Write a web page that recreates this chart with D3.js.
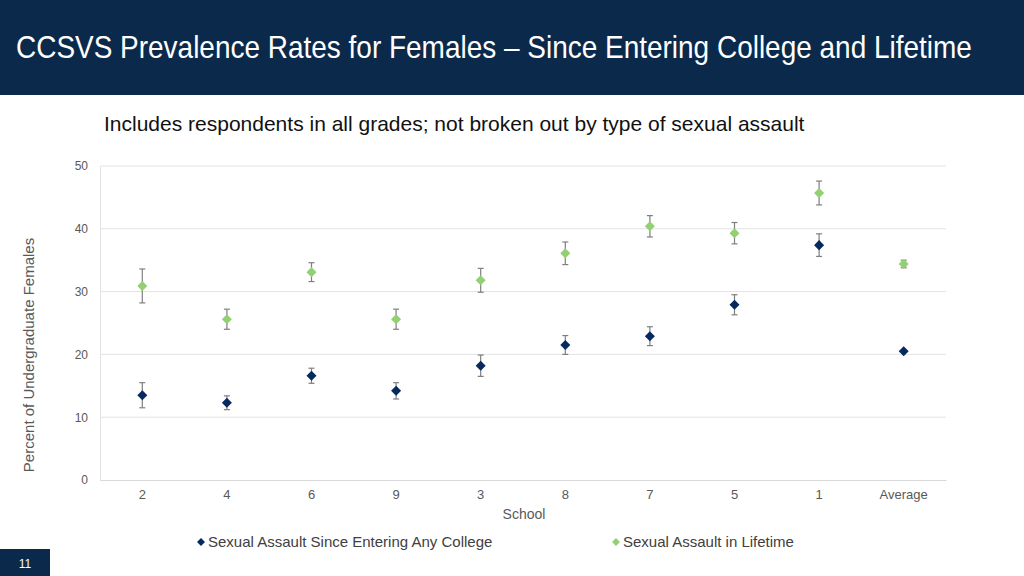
<!DOCTYPE html>
<html>
<head>
<meta charset="utf-8">
<script src="https://cdn.jsdelivr.net/npm/d3@7"></script>
<style>
  body { margin: 0; background: #fff; }
  svg { display: block; font-family: "Liberation Sans", Arial, sans-serif; }
</style>
</head>
<body>
<div id="chart"></div>
<script>
// Chart data
var schools = ["2", "4", "6", "9", "3", "8", "7", "5", "1", "Average"];
var sinceCollege = [13.5, 12.3, 16.6, 14.2, 18.2, 21.5, 22.9, 27.9, 37.4, 20.5];
var sinceCollegeErr = [2.0, 1.1, 1.2, 1.3, 1.7, 1.5, 1.5, 1.6, 1.8, 0];
var lifetime = [30.9, 25.6, 33.1, 25.6, 31.8, 36.1, 40.4, 39.3, 45.7, 34.4];
var lifetimeErr = [2.7, 1.6, 1.5, 1.6, 1.9, 1.8, 1.7, 1.7, 1.9, 0.6];
var yTicks = [0, 10, 20, 30, 40, 50];
var seriesNames = ["Sexual Assault Since Entering Any College", "Sexual Assault in Lifetime"];

var W = 1024, H = 576;
var margin = {top: 166, right: 78, bottom: 96, left: 100};
var width = W - margin.left - margin.right,
    height = H - margin.top - margin.bottom;

var navy = "#062a5e", green = "#93cf73", header = "#0b2a4b";

var svg = d3.select("#chart").append("svg")
            .attr("width", W)
            .attr("height", H);

// Header band
svg.append("rect").attr("x", 0).attr("y", 0).attr("width", W).attr("height", 95).attr("fill", header);

// no narrow font here, so squeeze the title horizontally to the reference width
var title = svg.append("text")
   .attr("fill", "#fff")
   .style("font-size", "32px")
   .text("CCSVS Prevalence Rates for Females \u2013 Since Entering College and Lifetime");
var titleScale = 956 / title.node().getComputedTextLength();
title.attr("transform", "translate(16,58) scale(" + titleScale + ",1)");

svg.append("text")
   .attr("x", 104).attr("y", 131)
   .attr("fill", "#111")
   .style("font-size", "21px")
   .text("Includes respondents in all grades; not broken out by type of sexual assault");

// Page number box
svg.append("rect").attr("x", 0).attr("y", 549).attr("width", 50).attr("height", 27).attr("fill", header);
svg.append("text").attr("x", 25).attr("y", 568).attr("text-anchor", "middle")
   .attr("fill", "#fff").style("font-size", "12px").text("11");

var g = svg.append("g").attr("transform", "translate(" + margin.left + "," + margin.top + ")");

var xScale = d3.scaleBand().domain(schools).range([0, width]);
var yScale = d3.scaleLinear().domain([0, 50]).range([height, 0]);

// Gridlines
g.selectAll("line.grid")
 .data(yTicks.filter(function(d) { return d > 0; }))
 .enter().append("line")
 .attr("class", "grid")
 .attr("x1", 0).attr("x2", width)
 .attr("y1", function(d) { return yScale(d); })
 .attr("y2", function(d) { return yScale(d); })
 .style("stroke", "#e3e3e3").style("stroke-width", 1);

// Y axis
var yAxis = d3.axisLeft(yScale).tickValues(yTicks).tickSize(0).tickPadding(12);
var yAxisGroup = g.append("g").call(yAxis);
yAxisGroup.select(".domain").style("stroke", "#e3e3e3");
yAxisGroup.selectAll("text").style("font-size", "12px").style("fill", "#595959")
          .style("font-family", "'Liberation Sans', Arial, sans-serif");

// X axis
var xAxis = d3.axisBottom(xScale).tickSize(0).tickPadding(10);
var xAxisGroup = g.append("g").attr("transform", "translate(0," + height + ")").call(xAxis);
xAxisGroup.select(".domain").style("stroke", "#d9d9d9");
xAxisGroup.selectAll("text").style("font-size", "13px").style("fill", "#595959")
          .style("font-family", "'Liberation Sans', Arial, sans-serif");

// Axis titles
g.append("text")
 .attr("x", width / 2 + 1).attr("y", height + 39)
 .attr("text-anchor", "middle")
 .style("font-size", "14px").style("fill", "#595959")
 .text("School");

g.append("text")
 .attr("transform", "translate(" + (-66) + "," + (height / 2 + 32) + ") rotate(-90)")
 .attr("text-anchor", "middle")
 .style("font-size", "15px").style("fill", "#595959")
 .text("Percent of Undergraduate Females");

var diamond = d3.symbol().type(d3.symbolDiamond2).size(64);

function drawSeries(values, errs, color) {
  var data = values.map(function(v, i) { return {school: schools[i], v: v, e: errs[i]}; });
  var cx = function(d) { return xScale(d.school) + xScale.bandwidth() / 2; };

  var bars = g.append("g").selectAll("g")
              .data(data.filter(function(d) { return d.e > 0; }))
              .enter().append("g")
              .style("stroke", "#7f7f7f").style("stroke-width", 1.2);
  bars.append("line")
      .attr("x1", cx).attr("x2", cx)
      .attr("y1", function(d) { return yScale(d.v + d.e); })
      .attr("y2", function(d) { return yScale(d.v - d.e); });
  bars.append("line")
      .attr("x1", function(d) { return cx(d) - 3; }).attr("x2", function(d) { return cx(d) + 3; })
      .attr("y1", function(d) { return yScale(d.v + d.e); })
      .attr("y2", function(d) { return yScale(d.v + d.e); });
  bars.append("line")
      .attr("x1", function(d) { return cx(d) - 3; }).attr("x2", function(d) { return cx(d) + 3; })
      .attr("y1", function(d) { return yScale(d.v - d.e); })
      .attr("y2", function(d) { return yScale(d.v - d.e); });

  g.append("g").selectAll("path")
   .data(data)
   .enter().append("path")
   .attr("d", diamond)
   .attr("transform", function(d) { return "translate(" + cx(d) + "," + yScale(d.v) + ")"; })
   .style("fill", color);
}

drawSeries(lifetime, lifetimeErr, green);
drawSeries(sinceCollege, sinceCollegeErr, navy);

// Legend
var legendX = [201, 616];
var legend = svg.append("g").selectAll("g")
                .data(seriesNames)
                .enter().append("g")
                .attr("transform", function(d, i) { return "translate(" + legendX[i] + ",542)"; });
legend.append("path")
      .attr("d", d3.symbol().type(d3.symbolDiamond2).size(40))
      .style("fill", function(d, i) { return i === 0 ? navy : green; });
legend.append("text")
      .attr("x", 7).attr("y", 5)
      .style("font-size", "15px").style("fill", "#404040")
      .text(function(d) { return d; });
</script>
</body>
</html>
